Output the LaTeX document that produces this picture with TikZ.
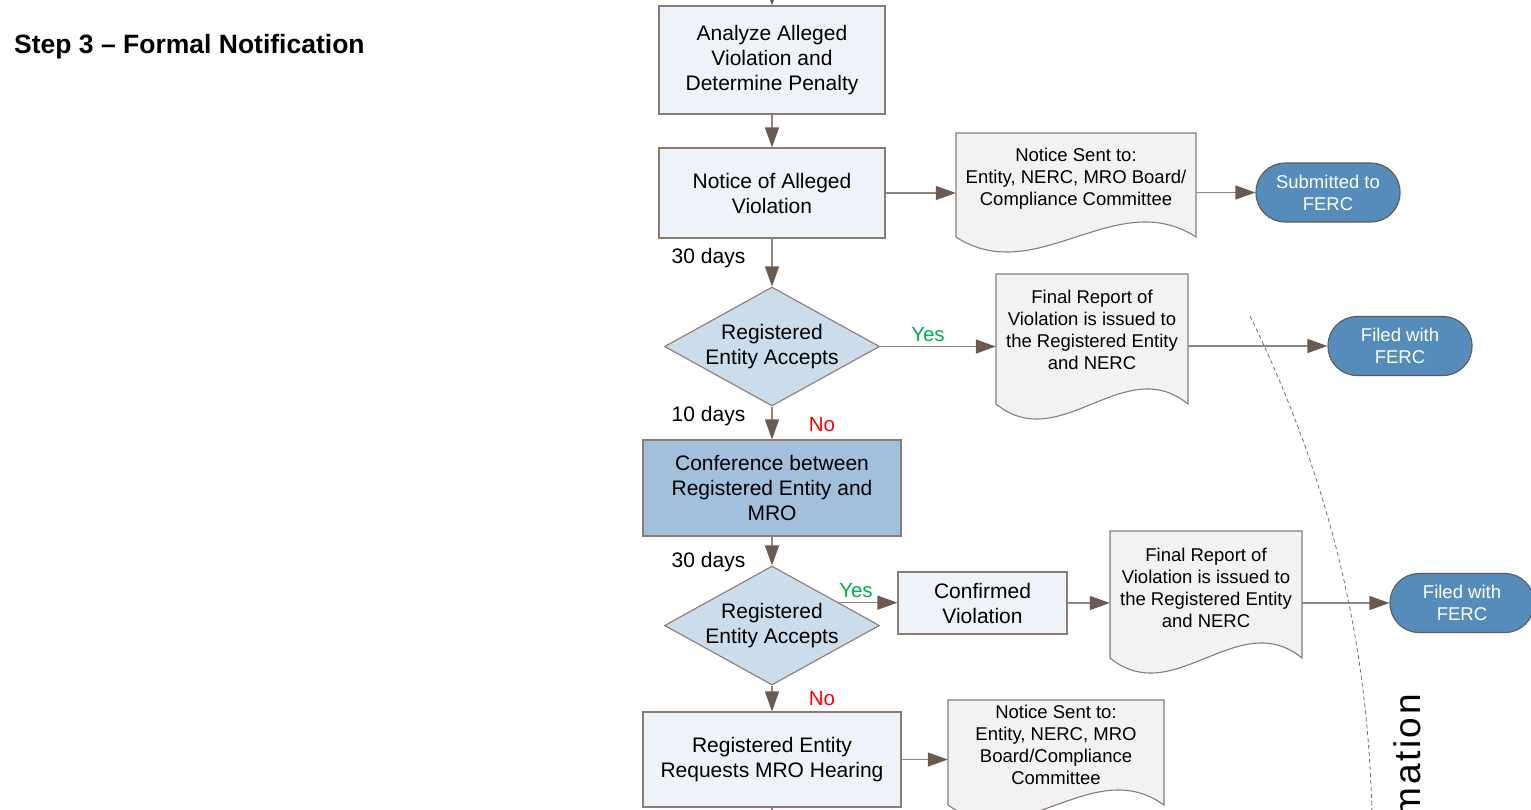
\documentclass[tikz,border=0pt]{standalone}
\usepackage{fontspec}
\setmainfont{Liberation Sans}
\usetikzlibrary{arrows.meta,shapes.geometric,calc}

\definecolor{boxfill}{HTML}{EEF3FA}
\definecolor{conffill}{HTML}{A2BFDB}
\definecolor{diafill}{HTML}{CBDCEB}
\definecolor{docfill}{HTML}{F2F2F2}
\definecolor{termfill}{HTML}{568CBA}
\definecolor{termbord}{HTML}{5E5A5A}
\definecolor{bordc}{HTML}{8A7B77}
\definecolor{arrowc}{HTML}{8F8480}
\definecolor{headc}{HTML}{6B5A52}
\definecolor{dashc}{HTML}{7A6A64}
\definecolor{yesc}{HTML}{00B050}
\definecolor{noc}{HTML}{FF0000}

\newcommand\zt[1]{\smash{\makebox[0pt]{\raisebox{-6pt}{\begin{tabular}{@{}c@{}}#1\end{tabular}}}}}
\newcommand\docshape[4]{%
  \path[docpath] (#1,#2) -- (#3,#2) -- (#3,#4)
    .. controls ({#3-(#3-#1)/3},{#4-52}) and ({#1+(#3-#1)/3},{#4+52}) .. (#1,#4) -- cycle;}

\tikzset{
  basebox/.style={font=\fontsize{21}{25}\selectfont, align=center, draw=bordc, line width=1.1pt, inner sep=0pt},
  procbox/.style={basebox, rectangle, fill=boxfill},
  confbox/.style={basebox, rectangle, fill=conffill},
  decision/.style={basebox, diamond, fill=diafill, minimum width=215pt, minimum height=119pt},
  docnode/.style={font=\fontsize{18.5}{22}\selectfont, align=center, inner sep=0pt},
  docpath/.style={draw=bordc, fill=docfill, line width=1.1pt},
  term/.style={font=\fontsize{18.5}{22}\selectfont, align=center, text=white, fill=termfill, draw=termbord, line width=1.1pt, rounded corners=29pt, inner sep=0pt, minimum width=144pt, minimum height=59pt},
  flow/.style={draw=arrowc, line width=1.3pt, -{Triangle[length=20pt,width=14pt,color=headc]}},
  plainline/.style={draw=arrowc, line width=1.3pt},
  lbl/.style={font=\fontsize{21}{25}\selectfont, anchor=base},
  sidelbl/.style={font=\fontsize{20.5}{25}\selectfont, anchor=base},
  boundary/.style={draw=dashc, line width=0.8pt, dash pattern=on 4pt off 3pt},
}

\begin{document}
\begin{tikzpicture}[x=1pt,y=-1pt]
\useasboundingbox (0,0) rectangle (1531,809);

% title
\node[font=\bfseries\fontsize{26.5}{30}\selectfont, anchor=base west, inner sep=0pt] (title) at (14,53) {Step 3 – Formal Notification};

% boundary curve and label
\draw[boundary] (1250,316) .. controls (1330,480) and (1368,640) .. (1372,815);
\node[rotate=90, anchor=base east, inner sep=0pt, font=\fontsize{37}{40}\selectfont\addfontfeature{LetterSpace=7}] (infolbl) at (1420,694) {mation};

% main column
\coordinate (topin) at (772,-30);
\node[procbox, minimum width=226pt, minimum height=108pt] (b1) at (772,60) {Analyze Alleged\\Violation and\\Determine Penalty};
\node[procbox, minimum width=226pt, minimum height=90pt] (b2) at (772,193) {Notice of Alleged\\Violation};
\node[decision] (d1) at (772,346.5) {\zt{Registered\\Entity Accepts}};
\node[confbox, minimum width=258pt, minimum height=96pt] (conf) at (772,488) {Conference between\\Registered Entity and\\MRO};
\node[decision] (d2) at (772,625.5) {\zt{Registered\\Entity Accepts}};
\node[procbox, minimum width=169pt, minimum height=62pt] (cv) at (982.5,603) {Confirmed\\Violation};
\node[procbox, minimum width=258pt, minimum height=95pt] (b4) at (772,759.5) {Registered Entity\\Requests MRO Hearing};
\coordinate (botout) at (772,840);

% documents
\docshape{956}{133}{1196}{237}
\node[docnode, minimum width=240pt] (doc1) at (1076,179) {Notice Sent to:\\Entity, NERC, MRO Board/\\Compliance Committee};
\docshape{996}{274}{1188}{404}
\node[docnode, minimum width=192pt] (doc2) at (1092,330) {Final Report of\\Violation is issued to\\the Registered Entity\\and NERC};
\docshape{1110}{531}{1302}{658}
\node[docnode, minimum width=192pt] (doc3) at (1206,587.5) {Final Report of\\Violation is issued to\\the Registered Entity\\and NERC};
\docshape{948}{700}{1164}{805}
\node[docnode, minimum width=216pt] (doc4) at (1056,745) {Notice Sent to:\\Entity, NERC, MRO\\Board/Compliance\\Committee};

% terminators
\node[term] (t1) at (1328,192.5) {Submitted to\\FERC};
\node[term] (t2) at (1400,346) {Filed with\\FERC};
\node[term] (t3) at (1462,603) {Filed with\\FERC};

% connectors
\draw[flow] (topin) -- (b1);
\draw[flow] (b1) -- (b2);
\draw[flow] (b2.east) -- (b2.east -| doc1.west);
\draw[flow] (doc1.east |- t1.west) -- (t1.west);
\draw[flow] (b2) -- (d1);
\draw[flow] (d1.east) -- (d1.east -| doc2.west);
\draw[flow] (doc2.east |- t2.west) -- (t2.west);
\draw[flow] (d1) -- (conf);
\draw[flow] (conf) -- (d2);
\coordinate (ystart) at ($(d2.north)!0.62!(d2.east)$);
\draw[flow] (ystart) -- (ystart -| cv.west);
\draw[flow] (cv.east) -- (cv.east -| doc3.west);
\draw[flow] (doc3.east |- t3.west) -- (t3.west);
\draw[flow] (d2) -- (b4);
\draw[flow] (b4.east) -- (b4.east -| doc4.west);
\draw[plainline] (b4) -- (botout);

% labels
\node[lbl] (l30a) at (708.5,263) {30 days};
\node[lbl] (l10) at (708.5,421) {10 days};
\node[lbl] (l30b) at (708.5,567) {30 days};
\node[sidelbl, text=yesc] (yes1) at (928,341) {Yes};
\node[sidelbl, text=noc] (no1) at (822,431) {No};
\node[sidelbl, text=yesc] (yes2) at (856,597) {Yes};
\node[sidelbl, text=noc] (no2) at (822,705) {No};
\end{tikzpicture}
\end{document}
